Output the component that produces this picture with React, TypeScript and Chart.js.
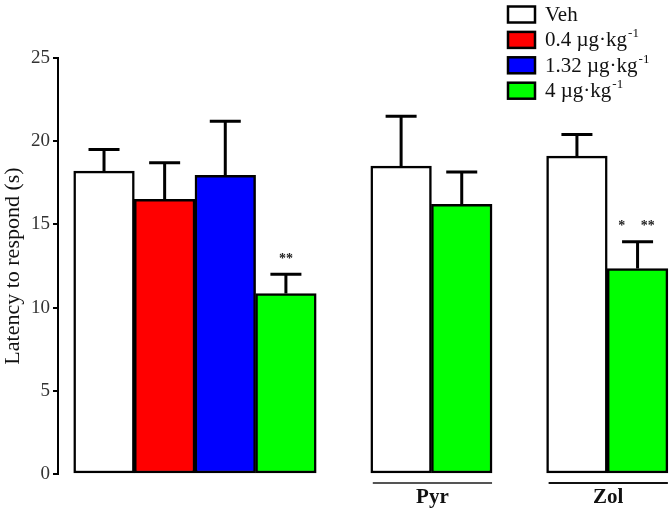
import { useEffect, useRef } from "react";
import { Chart, registerables } from "chart.js";

Chart.register(...registerables);

// ---- data ----
const seriesLabels = ["Veh", "0.4 µg·kg", "1.32 µg·kg", "4 µg·kg"];
const seriesSup = ["", "-1", "-1", "-1"];
const seriesColors = ["#ffffff", "#ff0000", "#0000ff", "#00ff00"];

// bar slot positions on the x axis (group 1: slots 0-3, Pyr: 4.9-5.9, Zol: 7.8-8.8)
const vehX = [0, 4.9, 7.8];
const vehMean = [18.2, 18.5, 19.1];
const vehErrTop = [19.5, 21.5, 20.4];

const lowX = [1];
const lowMean = [16.5];
const lowErrTop = [18.7];

const midX = [2];
const midMean = [17.95];
const midErrTop = [21.2];

const highX = [3, 5.9, 8.8];
const highMean = [10.85, 16.2, 12.35];
const highErrTop = [12.0, 18.15, 13.95];

const groupNames = ["", "Pyr", "Zol"];
const groupStart = [0, 4.9, 7.8];
const groupEnd = [3, 5.9, 8.8];

const starTexts = ["**", "*", "**"];
const starX = [3, 8.54, 8.97];
const starY = [12.9, 14.9, 14.9];

const yTicks = [0, 5, 10, 15, 20, 25];

const xs = [vehX, lowX, midX, highX];
const means = [vehMean, lowMean, midMean, highMean];
const errTops = [vehErrTop, lowErrTop, midErrTop, highErrTop];
const allX = [...vehX, ...lowX, ...midX, ...highX].sort((a, b) => a - b);

const SERIF = '"Liberation Serif", "Times New Roman", serif';

const overlayPlugin = {
  id: "overlay",
  afterDatasetsDraw(chart: any) {
    const ctx = chart.ctx;
    const xS = chart.scales.x;
    const yS = chart.scales.y;
    ctx.save();
    // error bars
    ctx.strokeStyle = "#000";
    ctx.lineWidth = 3;
    xs.forEach((_, di) => {
      const meta = chart.getDatasetMeta(di);
      meta.data.forEach((el: any, i: number) => {
        const top = yS.getPixelForValue(errTops[di][i]);
        ctx.beginPath();
        ctx.moveTo(el.x, el.y);
        ctx.lineTo(el.x, top);
        ctx.moveTo(el.x - 15.5, top);
        ctx.lineTo(el.x + 15.5, top);
        ctx.stroke();
      });
    });
    // significance marks
    ctx.fillStyle = "#222";
    ctx.font = `bold 14px ${SERIF}`;
    ctx.textAlign = "center";
    ctx.textBaseline = "middle";
    starTexts.forEach((t, i) => {
      ctx.fillText(t, xS.getPixelForValue(starX[i]), yS.getPixelForValue(starY[i]));
    });
    // group labels
    const half = (xS.getPixelForValue(1) - xS.getPixelForValue(0)) / 2;
    groupNames.forEach((name, i) => {
      if (!name) return;
      const l = xS.getPixelForValue(groupStart[i]) - half + 2;
      const r = xS.getPixelForValue(groupEnd[i]) + half;
      const by = chart.chartArea.bottom;
      ctx.strokeStyle = i === 1 ? "#555" : "#111";
      ctx.lineWidth = 2;
      ctx.beginPath();
      ctx.moveTo(l, by + 9);
      ctx.lineTo(r, by + 9);
      ctx.stroke();
      ctx.fillStyle = "#111";
      ctx.font = `bold 21px ${SERIF}`;
      ctx.textAlign = "center";
      ctx.textBaseline = "middle";
      ctx.fillText(name, (l + r) / 2, by + 24);
    });
    // legend
    seriesLabels.forEach((lab, i) => {
      const cy = 14.5 + i * 25.4;
      ctx.fillStyle = seriesColors[i];
      ctx.fillRect(508, cy - 8, 27, 16);
      ctx.strokeStyle = "#000";
      ctx.lineWidth = 2.5;
      ctx.strokeRect(508, cy - 8, 27, 16);
      ctx.fillStyle = "#111";
      ctx.font = `21px ${SERIF}`;
      ctx.textAlign = "left";
      ctx.textBaseline = "middle";
      ctx.fillText(lab, 545, cy + 1);
      if (seriesSup[i]) {
        const w = ctx.measureText(lab).width;
        ctx.font = `13px ${SERIF}`;
        ctx.fillText(seriesSup[i], 545 + w + 1, cy - 6);
      }
    });
    ctx.restore();
  },
};

export default function App() {
  const ref = useRef<HTMLCanvasElement | null>(null);
  useEffect(() => {
    if (!ref.current) return;
    const chart = new Chart(ref.current, {
      type: "bar",
      data: {
        datasets: seriesLabels.map((lab, di) => ({
          label: lab,
          data: xs[di].map((x, i) => ({ x, y: means[di][i] })),
          backgroundColor: seriesColors[di],
          borderColor: "#000",
          borderWidth: 2.5,
          borderSkipped: false,
          grouped: false,
          barPercentage: 1,
          categoryPercentage: 1,
        })),
      },
      options: {
        responsive: false,
        animation: false,
        layout: { padding: { top: 58, bottom: 36, left: 0, right: 0 } },
        plugins: { legend: { display: false }, tooltip: { enabled: false } },
        scales: {
          x: {
            type: "linear",
            min: -0.759,
            max: 9.335,
            offset: false,
            bounds: "data",
            display: false,
            afterBuildTicks: (s: any) => {
              s.ticks = allX.map((v) => ({ value: v }));
            },
          },
          y: {
            min: 0,
            max: 25,
            afterFit: (s: any) => {
              s.width = 58;
            },
            afterBuildTicks: (s: any) => {
              s.ticks = yTicks.map((v) => ({ value: v }));
            },
            grid: {
              drawOnChartArea: false,
              drawTicks: true,
              tickLength: 5,
              color: "#000",
              lineWidth: 2,
            },
            border: { display: true, color: "#000", width: 2 },
            ticks: {
              color: "#333",
              padding: 3,
              font: { family: SERIF, size: 19 },
            },
            title: {
              display: true,
              text: "Latency to respond (s)",
              color: "#111",
              font: { family: SERIF, size: 22 },
              padding: { top: 0, bottom: 0 },
            },
          },
        },
      },
      plugins: [overlayPlugin],
    });
    return () => chart.destroy();
  }, []);
  return (
    <div style={{ position: "fixed", left: 0, top: 0, width: 670, height: 510, background: "#fff" }}>
      <canvas ref={ref} width={670} height={510} />
    </div>
  );
}
